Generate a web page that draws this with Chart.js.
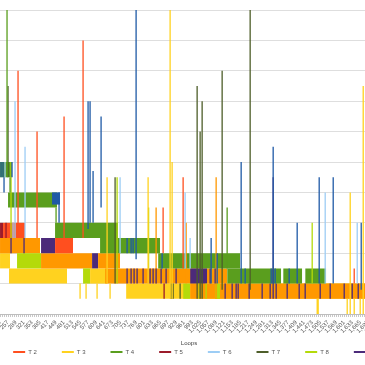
<!DOCTYPE html>
<html>
<head>
<meta charset="utf-8">
<script src="https://cdn.jsdelivr.net/npm/chart.js@4.4.0/dist/chart.umd.min.js"></script>
<style>
  html, body { margin: 0; padding: 0; background: #fff; overflow: hidden; }
  #wrap { position: relative; width: 365px; height: 365px; overflow: hidden; }
  #loopsChart { position: absolute; left: -62px; top: 0; }
</style>
</head>
<body>
<div id="wrap"><canvas id="loopsChart" width="518" height="391"></canvas></div>
<script>
// ── Data ──────────────────────────────────────────────────
// x = loop number, y = level (gridline every 1)
const loopMin = 1;
const loopMax = 1960;
const labelEvery = 32;          // tick labels on 1, 33, 65, ...
const seriesNames = ["T 1", "T 2", "T 3", "T 4", "T 5", "T 6", "T 7", "T 8", "T 9", "T 10"];

// bands: [fromLoop, toLoop, low, high]  (dense oscillation shows as a solid band)
const t1Bands  = [[433, 465, 3.6, 4]];
const t2Bands  = [[237, 325, 2.5, 3], [445, 517, 2, 2.5]];
const t3Bands  = [[225, 265, 1.5, 2], [261, 493, 1, 1.5], [585, 653, 1, 1.5], [729, 1685, 0.5, 1]];
const t4Bands  = [[225, 273, 4.5, 5], [257, 453, 3.5, 4], [445, 697, 2.5, 3], [625, 865, 2, 2.5],
                  [857, 1185, 1.5, 2], [1133, 1349, 1, 1.5], [1357, 1433, 1, 1.5], [1445, 1529, 1, 1.5]];
const t5Bands  = [[225, 237, 2.5, 3]];
const t6Bands  = [];
const t7Bands  = [];
const t8Bands  = [[293, 389, 1.5, 2], [557, 585, 1, 1.5], [957, 985, 0.5, 1], [1085, 1105, 0.5, 1]];
const t9Bands  = [[389, 445, 2, 2.5], [593, 617, 1.5, 2], [985, 1053, 1, 1.5]];
const t10Bands = [[225, 385, 2, 2.5], [389, 593, 1.5, 2], [617, 705, 1.5, 2], [645, 1133, 1, 1.5], [985, 1685, 0.5, 1]];

// spikes: [loop, from, to]
const t1Spikes = [[229, 4.5, 5], [237, 4.5, 5], [273, 4.5, 5], [241, 4, 4.5], [461, 3, 4], [577, 2.8, 7],
                  [585, 3, 7], [597, 3, 4.7], [629, 3.5, 6.5], [733, 2, 2.5], [749, 2, 2.5], [757, 2, 2.5],
                  [769, 1.8, 10], [873, 1.5, 2], [1069, 1, 2.5], [1093, 1, 2], [1189, 1, 5], [1205, 1, 1.5],
                  [1309, 1, 1.5], [1317, 1, 5.5], [1325, 1, 1.5], [1381, 1, 1.5], [1413, 1, 3], [1501, 1, 4.5],
                  [1557, 1, 4.5], [1669, 0.8, 3]];
const t2Spikes = [[297, 2.5, 8], [373, 2.5, 6], [481, 2.5, 6.5], [557, 2.5, 9], [877, 2, 3.5], [957, 1.5, 4.5],
                  [1641, 1, 1.5]];
const t3Spikes = [[545, 0.5, 1], [569, 0.5, 1], [613, 0.5, 1], [665, 0.5, 1], [653, 1, 4.5], [817, 1, 4.5],
                  [905, 0.5, 10], [913, 0.5, 5], [1493, 0, 0.5], [1497, 0, 0.5], [1613, 0, 0.5], [1625, 0, 4],
                  [1641, 0, 0.5], [1665, 0, 0.5], [1677, 0, 7.5]];
const t4Spikes = [[253, 4.5, 10], [265, 4, 4.5], [449, 3, 3.5], [1133, 1.5, 3.5]];
const t5Spikes = [[249, 2.5, 3], [881, 0.5, 1]];
const t6Spikes = [[245, 4.5, 5], [277, 2.5, 3], [285, 2.5, 7], [325, 2.5, 5.5], [705, 2, 4.5], [965, 1.5, 4],
                  [985, 1.5, 2.5], [1525, 1, 4], [1653, 1, 3]];
const t7Spikes = [[257, 4.5, 7.5], [685, 1, 4.5], [909, 0.5, 1], [917, 0.5, 1], [945, 0.5, 1], [1013, 0.5, 7.5],
                  [1025, 0.5, 6], [1033, 0.5, 7], [1113, 0.8, 8], [1225, 0.8, 10]];
const t8Spikes = [[269, 2.5, 5], [693, 1, 4.5], [819, 1.5, 3.5], [1021, 0.5, 1], [1049, 0.5, 1], [1473, 1, 3]];
const t9Spikes = [[269, 2, 2.5], [321, 2, 2.5], [733, 1, 1.5], [749, 1, 1.5], [761, 1, 1.5], [773, 1, 1.5],
                  [797, 1, 1.5], [825, 1, 1.5], [837, 1, 1.5], [849, 1, 1.5], [869, 1, 1.5], [889, 1, 1.5],
                  [929, 1, 1.5], [1065, 1, 1.5], [1085, 1, 1.5], [1125, 0.5, 1], [1153, 0.5, 1], [1169, 0.5, 1],
                  [1177, 0.5, 1], [1221, 0.5, 1], [1273, 0.5, 1], [1305, 0.5, 1], [1329, 0.5, 1], [1373, 0.5, 1],
                  [1421, 0.5, 1], [1445, 0.5, 1], [1505, 0.5, 1], [1545, 0.5, 1], [1601, 0.5, 1], [1633, 0.5, 1],
                  [1657, 0.5, 1], [1317, 0.5, 4.5]];
const t10Spikes = [[849, 1, 3.5], [969, 1, 3], [1089, 0.5, 4.5]];

// ── Styles ────────────────────────────────────────────────
const seriesColors = ["#1F5AA6", "#FF4F1F", "#FFD21F", "#5A9E1E", "#9B1B2A",
                      "#9DCDF5", "#4E5E2A", "#B4DA0A", "#4C2A7A", "#FF9800"];
// band stacking: lower number = drawn on top
const bandLayer = [0, 3, 7, 5, 2, 8, 8, 4, 1, 6];
const fontFam = "'Liberation Sans', Arial, sans-serif";

const bandsBySeries  = [t1Bands, t2Bands, t3Bands, t4Bands, t5Bands, t6Bands, t7Bands, t8Bands, t9Bands, t10Bands];
const spikesBySeries = [t1Spikes, t2Spikes, t3Spikes, t4Spikes, t5Spikes, t6Spikes, t7Spikes, t8Spikes, t9Spikes, t10Spikes];

const datasets = [];

// spikes: one line per series, broken by nulls
spikesBySeries.forEach(function (list, i) {
  const pts = [];
  list.forEach(function (s) {
    pts.push({ x: s[0], y: s[1] }, { x: s[0], y: s[2] }, { x: s[0], y: null });
  });
  datasets.push({
    label: seriesNames[i],
    data: pts,
    borderColor: seriesColors[i],
    backgroundColor: seriesColors[i],
    borderWidth: 1.3,
    pointRadius: 0,
    spanGaps: false,
    fill: false,
    order: i
  });
});

// bands: filled strip between low and high
bandsBySeries.forEach(function (list, i) {
  list.forEach(function (b) {
    datasets.push({
      label: seriesNames[i] + " band",
      data: [{ x: b[0], y: b[3] }, { x: b[1], y: b[3] }],
      borderWidth: 0,
      borderColor: "rgba(0,0,0,0)",
      backgroundColor: seriesColors[i],
      pointRadius: 0,
      fill: { value: b[2] },
      order: 100 + bandLayer[i]
    });
  });
});

// legend sits right under the axis title
const legendLift = {
  id: "legendLift",
  afterLayout: function (chart) {
    const lg = chart.legend;
    const d = lg.top - 324;
    lg.top -= d;
    lg.bottom -= d;
  }
};

new Chart(document.getElementById("loopsChart"), {
  type: "line",
  data: { datasets: datasets },
  plugins: [legendLift],
  options: {
    responsive: false,
    animation: false,
    devicePixelRatio: 1,
    events: [],
    layout: { padding: { left: 0, right: 0, top: 10, bottom: 0 } },
    plugins: {
      tooltip: { enabled: false },
      legend: {
        position: "bottom",
        labels: {
          font: { family: fontFam, size: 6 },
          color: "#555",
          boxWidth: 12,
          boxHeight: 2,
          padding: 25,
          generateLabels: function () {
            return seriesNames.map(function (name, i) {
              return { text: name, fillStyle: seriesColors[i], strokeStyle: seriesColors[i],
                       lineWidth: 0, fontColor: "#555", hidden: false, datasetIndex: i };
            });
          }
        }
      }
    },
    scales: {
      x: {
        type: "linear",
        min: loopMin,
        max: loopMax,
        afterBuildTicks: function (scale) {
          const t = [];
          for (let v = loopMin; v <= loopMax; v += 8) t.push({ value: v });
          scale.ticks = t;
        },
        afterFit: function (scale) { scale.height = 36; },
        ticks: {
          autoSkip: false,
          minRotation: 45,
          maxRotation: 45,
          padding: 2,
          color: "#555",
          font: { family: fontFam, size: 6 },
          callback: function (v) {
            return (v - loopMin) % labelEvery === 0 ? v.toLocaleString("en-US") : "";
          }
        },
        grid: { drawOnChartArea: false, tickLength: 3, color: "#c8c8c8" },
        border: { color: "#bdbdbd" },
        title: {
          display: true,
          text: "Loops",
          color: "#444",
          font: { family: fontFam, size: 6 },
          padding: { top: 3, bottom: 3 }
        }
      },
      y: {
        type: "linear",
        min: 0,
        max: 10,
        ticks: { display: false, stepSize: 1 },
        grid: { color: "#dedede", drawTicks: false },
        border: { display: false },
        afterFit: function (scale) { scale.width = 6; }
      },
      yR: {
        type: "linear",
        axis: "y",
        position: "right",
        min: 0,
        max: 10,
        ticks: { display: false },
        grid: { display: false },
        border: { display: false },
        afterFit: function (scale) { scale.width = 22; }
      }
    }
  }
});
</script>
</body>
</html>
